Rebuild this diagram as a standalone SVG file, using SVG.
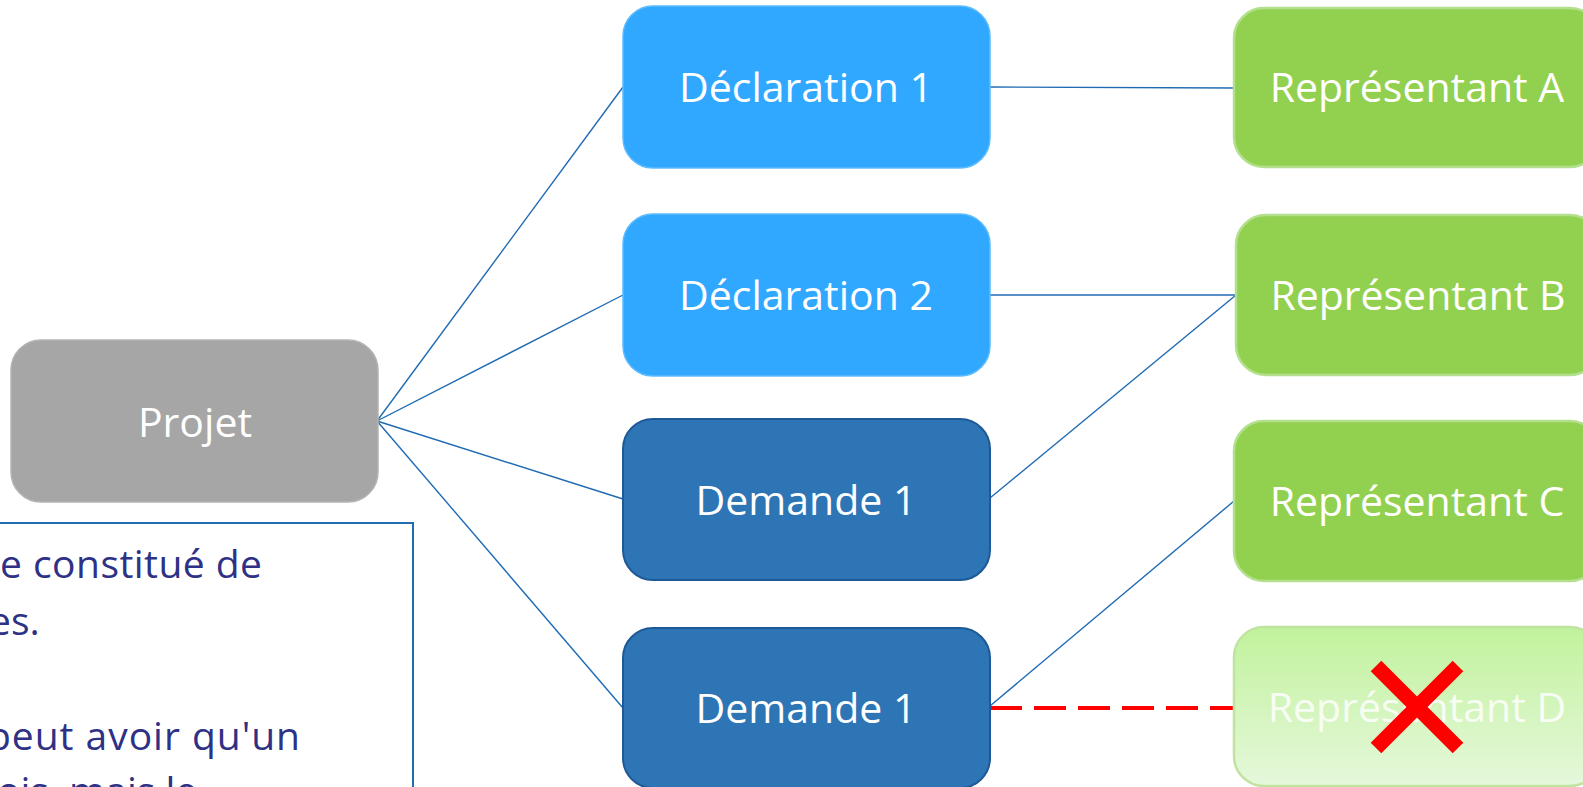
<svg xmlns="http://www.w3.org/2000/svg" width="1583" height="787" viewBox="0 0 1583 787">
  <defs>
    <style>
      .lbl { font-family: "Open Sans", "Noto Sans", "Liberation Sans", sans-serif; font-size: 41px; fill: #FFFFFF; text-anchor: middle; }
      .note { font-family: "Open Sans", "Noto Sans", "Liberation Sans", sans-serif; font-size: 39px; fill: #2E3185; }
      .projet { fill: #A6A6A6; stroke: #B4B4B4; stroke-width: 1.5; }
      .decl { fill: #31A8FF; stroke: #5DBBFF; stroke-width: 1.5; }
      .dem { fill: #2E75B6; stroke: #1D5996; stroke-width: 2; }
      .rep { fill: #92D050; stroke: #B3E08C; stroke-width: 2.5; }
      .rep-off { fill: url(#fadeGreen); stroke: #C0E4A0; stroke-width: 2.5; }
      .link { stroke: #1F6BB3; stroke-width: 1.4; fill: none; }
      .cut { stroke: #FF0000; stroke-width: 4; stroke-dasharray: 32 12; fill: none; }
    </style>
    <linearGradient id="fadeGreen" x1="0" y1="0" x2="0" y2="1">
      <stop offset="0" stop-color="#C1F29C"/>
      <stop offset="1" stop-color="#E6F8DC"/>
    </linearGradient>
  </defs>

  <rect x="0" y="0" width="1583" height="787" fill="#FFFFFF"/>

  <!-- connectors -->
  <g id="connectors">
    <line class="link" x1="377" y1="421" x2="623" y2="87"/>
    <line class="link" x1="377" y1="421" x2="623" y2="295"/>
    <line class="link" x1="377" y1="421" x2="623" y2="499"/>
    <line class="link" x1="377" y1="421" x2="623" y2="708"/>
    <line class="link" x1="990" y1="87" x2="1234" y2="88"/>
    <line class="link" x1="990" y1="295" x2="1236" y2="295"/>
    <line class="link" x1="990" y1="498" x2="1236" y2="295"/>
    <line class="link" x1="990" y1="706" x2="1234" y2="501"/>
    <line class="cut" x1="990" y1="708" x2="1234" y2="708"/>
  </g>

  <!-- root -->
  <g id="projet">
    <rect class="projet" x="11" y="340" width="367" height="162" rx="30"/>
    <text class="lbl" x="195" y="437">Projet</text>
  </g>

  <!-- middle column -->
  <g id="declaration1">
    <rect class="decl" x="623" y="6" width="367" height="162" rx="30"/>
    <text class="lbl" x="806" y="102">Déclaration 1</text>
  </g>
  <g id="declaration2">
    <rect class="decl" x="623" y="214" width="367" height="162" rx="30"/>
    <text class="lbl" x="806" y="310">Déclaration 2</text>
  </g>
  <g id="demande1a">
    <rect class="dem" x="623" y="419" width="367" height="161" rx="30"/>
    <text class="lbl" x="806" y="515">Demande 1</text>
  </g>
  <g id="demande1b">
    <rect class="dem" x="623" y="628" width="367" height="160" rx="30"/>
    <text class="lbl" x="806" y="723">Demande 1</text>
  </g>

  <!-- right column -->
  <g id="representantA">
    <rect class="rep" x="1234" y="8" width="366" height="159" rx="30"/>
    <text class="lbl" x="1417" y="102">Représentant A</text>
  </g>
  <g id="representantB">
    <rect class="rep" x="1236" y="215" width="364" height="160" rx="30"/>
    <text class="lbl" x="1418" y="310">Représentant B</text>
  </g>
  <g id="representantC">
    <rect class="rep" x="1234" y="421" width="366" height="160" rx="30"/>
    <text class="lbl" x="1417" y="516">Représentant C</text>
  </g>
  <g id="representantD">
    <rect class="rep-off" x="1234" y="627" width="366" height="159" rx="30"/>
    <text class="lbl" x="1417" y="722" fill-opacity="0.85">Représentant D</text>
    <g stroke="#FF0000" stroke-width="15">
      <line x1="1376" y1="666" x2="1458" y2="748"/>
      <line x1="1458" y1="666" x2="1376" y2="748"/>
    </g>
  </g>

  <!-- note box -->
  <g id="note">
    <rect x="-20" y="523" width="433" height="300" fill="#FFFFFF" stroke="#1F6DB3" stroke-width="2"/>
    <text class="note" x="0" y="578" textLength="262">e constitué de</text>
    <text class="note" x="-11" y="635">es.</text>
    <text class="note" x="-13" y="750" textLength="313">peut avoir qu'un</text>
    <text class="note" x="-3" y="805">ois, mais le</text>
  </g>
</svg>
